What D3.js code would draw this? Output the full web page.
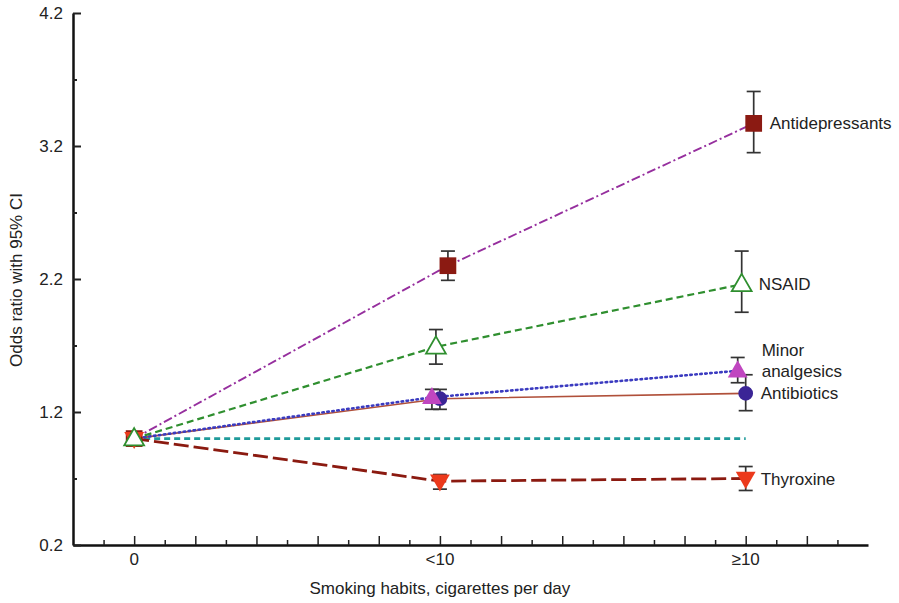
<!DOCTYPE html>
<html>
<head>
<meta charset="utf-8">
<script src="https://cdn.jsdelivr.net/npm/d3@7"></script>
<style>
  body { margin: 0; background: #fff; }
  text { font-family: "Liberation Sans", Arial, sans-serif; fill: #222; }
</style>
</head>
<body>
<div id="main"></div>
<script>
// categories on the x axis (positions 0, 1, 2)
const categories = ["0", "<10", "\u226510"];
const yTicks = [0.2, 1.2, 2.2, 3.2, 4.2];

// odds ratios (point, lower, upper) per smoking category
const antidepressants = [[1.0, 1.0, 1.0], [2.30, 2.19, 2.41], [3.37, 3.15, 3.61]];
const nsaid          = [[1.0, 1.0, 1.0], [1.69, 1.56, 1.82], [2.16, 1.95, 2.41]];
const minorAnalg     = [[1.0, 1.0, 1.0], [1.31, 1.22, 1.37], [1.51, 1.42, 1.61]];
const antibiotics    = [[1.0, 1.0, 1.0], [1.30, 1.22, 1.37], [1.34, 1.21, 1.48]];
const thyroxine      = [[1.0, 1.0, 1.0], [0.68, 0.62, 0.73], [0.70, 0.61, 0.79]];
const reference = [1.0, 1.0];

const ctx = {
    w: 899,
    h: 603,
    left: 73,
    right: 868,
    top: 13,
    bottom: 545,
    font: "17px",
};

const series = [
    { name: ["Antidepressants"], data: antidepressants, color: "#962f9e", dash: "9,3,2,3", width: 1.9,
      marker: "square", fill: "#8b1a12", dx: 8, labelDx: 16, z: 2 },
    { name: ["Antibiotics"], data: antibiotics, color: "#b0503a", dash: null, width: 1.6,
      marker: "circle", fill: "#3b2596", dx: 0, labelDx: 15, z: 0 },
    { name: ["Minor", "analgesics"], data: minorAnalg, color: "#3b3bc0", dash: "1.5,3.5", width: 2.6,
      marker: "triangle", fill: "#c046c0", dx: -8, labelDx: 24, z: 1 },
    { name: ["Thyroxine"], data: thyroxine, color: "#8b1a10", dash: "15,5", width: 2.8,
      marker: "triangleDown", fill: "#ec3a1c", dx: 0, labelDx: 15, z: 3 },
    { name: ["NSAID"], data: nsaid, color: "#2f8f2f", dash: "7,4", width: 2.2,
      marker: "triangle", fill: "#fff", stroke: "#2f8f2f", dx: -4, labelDx: 17, z: 4 },
];

function createViz() {
    let svg = d3.select("#main").append("svg")
        .attr("width", ctx.w)
        .attr("height", ctx.h);

    let x = d3.scaleLinear().domain([-0.2, 2.4]).range([ctx.left, ctx.right]);
    let y = d3.scaleLinear().domain([0.2, 4.2]).range([ctx.bottom, ctx.top]);

    /* x axis: inward ticks every 0.1, longer every 0.2 */
    let xTickVals = d3.range(-1, 24).map(d => d / 10);
    svg.append("g")
        .attr("transform", `translate(0,${ctx.bottom})`)
        .call(d3.axisBottom(x).tickValues(xTickVals).tickSize(0).tickFormat(""))
        .call(g => g.select(".domain").attr("stroke", "#111").attr("stroke-width", 2.5))
        .call(g => g.selectAll(".tick line")
            .attr("y2", d => Math.round(d * 10) % 2 == 0 ? -9 : -5)
            .attr("stroke", "#222").attr("stroke-width", 1.5));

    svg.append("g").selectAll("text")
        .data(categories)
        .enter().append("text")
        .attr("x", (d, i) => x(i))
        .attr("y", 565)
        .attr("text-anchor", "middle")
        .style("font-size", ctx.font)
        .text(d => d);

    /* y axis */
    let yMinor = d3.range(0, 4).map(i => 0.7 + i);
    svg.append("g")
        .attr("transform", `translate(${ctx.left},0)`)
        .call(d3.axisLeft(y).tickValues(yTicks.concat(yMinor)).tickSize(0)
            .tickFormat(d => yTicks.includes(d) ? d3.format(".1f")(d) : ""))
        .call(g => g.select(".domain").attr("stroke", "#111").attr("stroke-width", 2.5))
        .call(g => g.selectAll(".tick line")
            .attr("x2", d => yTicks.includes(d) ? 8 : 4)
            .attr("stroke", "#222").attr("stroke-width", 2))
        .call(g => g.selectAll(".tick text")
            .attr("x", -10)
            .style("font-size", ctx.font)
            .style("font-family", "'Liberation Sans', Arial, sans-serif")
            .attr("fill", "#222"));

    svg.append("text")
        .attr("transform", `translate(22,${(ctx.top + ctx.bottom) / 2 + 1}) rotate(-90)`)
        .attr("text-anchor", "middle")
        .style("font-size", ctx.font)
        .text("Odds ratio with 95% CI");

    svg.append("text")
        .attr("x", x(1))
        .attr("y", 594)
        .attr("text-anchor", "middle")
        .style("font-size", ctx.font)
        .text("Smoking habits, cigarettes per day");

    /* reference line at OR = 1 */
    svg.append("line")
        .attr("x1", x(0)).attr("x2", x(2))
        .attr("y1", y(reference[0])).attr("y2", y(reference[1]))
        .attr("stroke", "#1f9a9a")
        .attr("stroke-width", 2.6)
        .attr("stroke-dasharray", "6,4");

    let px = (s, i) => x(i) + (i == 0 ? 0 : s.dx);

    /* lines */
    series.forEach(s => {
        svg.append("path")
            .datum(s.data)
            .attr("fill", "none")
            .attr("stroke", s.color)
            .attr("stroke-width", s.width)
            .attr("stroke-linecap", s.dash && s.dash.startsWith("1.5") ? "round" : "butt")
            .attr("stroke-dasharray", s.dash)
            .attr("d", d3.line().x((d, i) => px(s, i)).y(d => y(d[0])));
    });

    /* error bars */
    series.forEach(s => {
        let g = svg.append("g").attr("stroke", "#333").attr("stroke-width", 1.7);
        s.data.forEach((d, i) => {
            if (i == 0) return;
            let cx = px(s, i);
            g.append("line").attr("x1", cx).attr("x2", cx).attr("y1", y(d[1])).attr("y2", y(d[2]));
            g.append("line").attr("x1", cx - 7).attr("x2", cx + 7).attr("y1", y(d[1])).attr("y2", y(d[1]));
            g.append("line").attr("x1", cx - 7).attr("x2", cx + 7).attr("y1", y(d[2])).attr("y2", y(d[2]));
        });
    });

    /* markers */
    let symbols = {
        square: d3.symbol().type(d3.symbolSquare).size(280),
        circle: d3.symbol().type(d3.symbolCircle).size(170),
        triangle: d3.symbol().type(d3.symbolTriangle).size(170),
        triangleDown: d3.symbol().type(d3.symbolTriangle).size(170),
    };
    series.slice().sort((a, b) => a.z - b.z).forEach(s => {
        svg.append("g").selectAll("path")
            .data(s.data)
            .enter().append("path")
            .attr("d", symbols[s.marker])
            .attr("transform", (d, i) => `translate(${px(s, i)},${y(d[0]) + (s.marker == "triangle" ? 1 : s.marker == "triangleDown" ? -1 : 0)})` + (s.marker == "triangleDown" ? " rotate(180)" : ""))
            .attr("fill", s.fill)
            .attr("stroke", s.stroke || "none")
            .attr("stroke-width", 1.8);
    });

    /* labels */
    series.forEach(s => {
        let last = s.data[s.data.length - 1];
        let t = svg.append("text")
            .attr("x", px(s, 2) + s.labelDx)
            .attr("y", y(last[0]) + 6 - (s.name.length - 1) * 21)
            .style("font-size", ctx.font);
        s.name.forEach((n, k) => {
            t.append("tspan").attr("x", px(s, 2) + s.labelDx).attr("dy", k == 0 ? 0 : 21).text(n);
        });
    });
}

createViz();
</script>
</body>
</html>
